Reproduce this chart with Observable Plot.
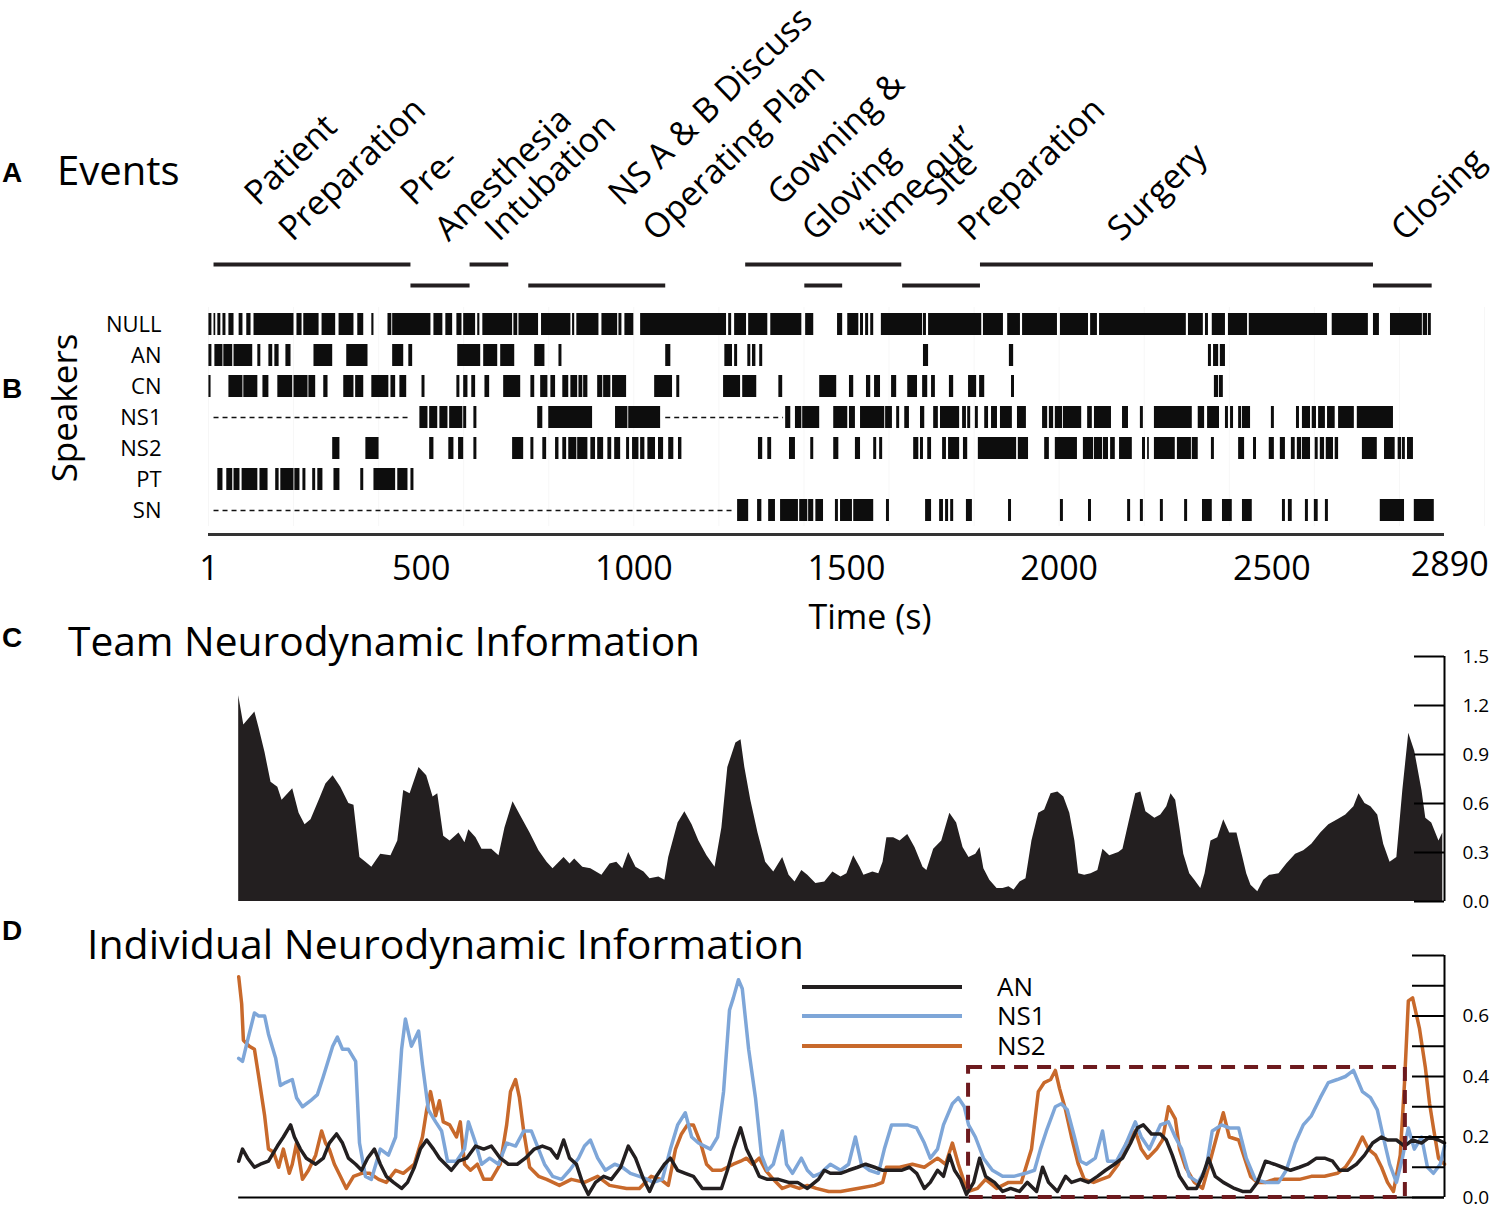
<!DOCTYPE html>
<html><head><meta charset="utf-8">
<script src="https://cdn.jsdelivr.net/npm/d3@7"></script>
<script src="https://cdn.jsdelivr.net/npm/@observablehq/plot@0.6"></script>
<style>
body{margin:0;background:#fff;}
#root{position:relative;width:1500px;height:1213px;font-family:"Open Sans",sans-serif;color:#000;overflow:hidden;background:#fff;}
.abs{position:absolute;line-height:1;white-space:nowrap;}
.panel{position:absolute;left:0;}
</style></head><body><div id="root"></div>
<script>
// ---------- DATA ----------
const tMax = 2906;                       // end of the time axis (s)
const timeTicks = [1, 500, 1000, 1500, 2000, 2500];
const timeEndTick = [2890];

// Panel A: events
const eventName = ["Patient\nPreparation", "Pre-\nAnesthesia", "Intubation", "NS A & B Discuss\nOperating Plan",
  "Gowning &\nGloving", "\u2018time out\u2019", "Site\nPreparation", "Surgery", "Closing"];
const eventStart = [13, 476, 615, 753, 1263, 1402, 1632, 1815, 2739];
const eventEnd   = [476, 615, 706, 1075, 1630, 1491, 1815, 2739, 2877];
const eventLevel = ["upper", "lower", "upper", "lower", "upper", "lower", "lower", "upper", "lower"];
const eventLabelAt = [162, 529, 647, 1018, 1392, 1528, 1759, 2111, 2777];

// Panel B: speech segments [start, end] in seconds
const speakers = ["NULL", "AN", "CN", "NS1", "NS2", "PT", "SN"];
const talkNULL = [[1,8],[13,17],[22,29],[34,41],[48,60],[72,81],[90,100],[107,201],[208,220],[224,260],[267,299],[307,342],[351,365],[384,389],[422,431],[433,523],[530,551],[558,574],[584,596],[600,628],[633,638],[645,715],[718,727],[730,776],[783,852],[856,861],[866,918],[925,962],[965,972],[979,1000],[1016,1218],[1223,1230],[1237,1265],[1270,1315],[1322,1395],[1404,1423],[1479,1491],[1503,1529],[1533,1540],[1545,1552],[1557,1564],[1582,1679],[1681,1688],[1693,1818],[1822,1869],[1879,1909],[1914,1996],[2003,2069],[2074,2090],[2095,2299],[2304,2339],[2344,2351],[2360,2391],[2398,2443],[2447,2631],[2642,2727],[2739,2753],[2779,2854],[2856,2866],[2868,2875]];
const talkAN = [[1,8],[15,34],[36,57],[60,104],[116,123],[142,151],[156,166],[182,194],[248,292],[325,375],[433,459],[471,480],[586,640],[647,680],[687,720],[767,791],[824,831],[1075,1087],[1214,1232],[1237,1244],[1268,1275],[1279,1287],[1296,1303],[1681,1693],[1883,1893],[2351,2358],[2363,2375],[2379,2391]];
const talkCN = [[1,6],[48,81],[83,116],[128,142],[163,198],[201,234],[236,252],[271,281],[318,342],[346,365],[384,424],[429,440],[450,466],[502,509],[584,591],[600,610],[619,628],[650,661],[694,734],[758,767],[781,798],[805,816],[833,847],[852,868],[871,880],[882,892],[915,927],[929,946],[950,983],[1049,1091],[1101,1108],[1211,1251],[1256,1289],[1341,1350],[1437,1477],[1507,1517],[1547,1557],[1566,1580],[1606,1618],[1644,1667],[1679,1691],[1700,1709],[1742,1752],[1787,1806],[1813,1825],[1888,1895],[2365,2375],[2377,2386]];
const talkNS1 = [[497,516],[520,539],[544,563],[567,598],[600,607],[624,631],[774,786],[800,903],[957,986],[988,1063],[1357,1369],[1380,1395],[1397,1437],[1470,1503],[1507,1521],[1533,1590],[1592,1608],[1618,1625],[1637,1648],[1674,1684],[1705,1716],[1721,1766],[1773,1782],[1785,1792],[1803,1810],[1825,1834],[1841,1855],[1862,1890],[1902,1923],[1961,1973],[1977,1987],[1991,2008],[2010,2053],[2067,2078],[2083,2123],[2149,2163],[2191,2198],[2224,2313],[2327,2342],[2349,2377],[2391,2398],[2403,2410],[2422,2429],[2431,2450],[2499,2506],[2558,2565],[2572,2591],[2595,2605],[2610,2626],[2631,2649],[2657,2694],[2701,2786]];
const talkNS2 = [[292,309],[370,401],[520,530],[565,577],[588,600],[624,631],[715,741],[758,765],[786,795],[816,824],[833,842],[847,866],[868,892],[899,910],[915,929],[939,948],[955,969],[983,990],[997,1012],[1016,1026],[1033,1051],[1058,1070],[1082,1094],[1105,1113],[1293,1303],[1315,1324],[1366,1380],[1416,1423],[1470,1482],[1521,1533],[1564,1571],[1578,1585],[1658,1670],[1674,1681],[1691,1700],[1726,1735],[1740,1766],[1775,1785],[1810,1900],[1904,1928],[1966,1977],[1991,2043],[2057,2081],[2083,2102],[2104,2116],[2121,2132],[2142,2172],[2196,2203],[2208,2212],[2224,2273],[2278,2311],[2313,2327],[2358,2365],[2422,2436],[2457,2464],[2494,2506],[2520,2532],[2546,2555],[2560,2570],[2572,2591],[2602,2609],[2614,2624],[2628,2645],[2649,2657],[2713,2748],[2765,2790],[2797,2805],[2807,2814],[2819,2833]];
const talkPT = [[22,34],[43,57],[60,74],[79,116],[121,140],[158,166],[170,201],[203,215],[222,229],[245,252],[257,269],[295,309],[358,365],[389,440],[445,469],[476,483]];
const talkSN = [[1244,1270],[1291,1301],[1317,1333],[1345,1387],[1390,1409],[1411,1423],[1428,1446],[1474,1481],[1486,1514],[1517,1564],[1594,1601],[1686,1700],[1719,1728],[1733,1740],[1745,1752],[1782,1796],[1881,1888],[2003,2010],[2069,2076],[2161,2168],[2191,2198],[2238,2245],[2295,2302],[2337,2360],[2384,2407],[2431,2454],[2525,2532],[2539,2548],[2579,2586],[2600,2609],[2626,2633],[2755,2812],[2835,2882]];
// periods when the speaker was not present (dashed)
const absentNS1 = [[13,476],[1075,1352]];
const absentSN = [[13,1240]];

// Panel C: Team neurodynamic information [time, value]
const teamNI = [[71,1.26],[83,1.08],[109,1.16],[119,1.06],[133,.91],[147,.73],[163,.70],[173,.62],[198,.69],[213,.54],[227,.47],[241,.50],[262,.63],[276,.72],[293,.77],[311,.70],[330,.60],[342,.59],[356,.27],[370,.24],[384,.21],[405,.29],[429,.28],[445,.37],[459,.68],[474,.66],[495,.82],[513,.77],[528,.64],[539,.66],[553,.40],[568,.37],[589,.42],[603,.36],[612,.44],[629,.39],[643,.32],[666,.32],[683,.28],[697,.45],[716,.61],[737,.51],[756,.42],[777,.31],[796,.24],[810,.20],[836,.27],[850,.23],[861,.26],[880,.21],[899,.20],[925,.16],[944,.23],[960,.24],[974,.20],[988,.30],[1005,.21],[1024,.18],[1038,.14],[1059,.15],[1073,.13],[1082,.27],[1104,.48],[1120,.55],[1137,.47],[1153,.37],[1172,.28],[1191,.21],[1207,.45],[1221,.82],[1240,.97],[1252,.99],[1261,.82],[1275,.62],[1292,.42],[1310,.24],[1329,.18],[1350,.27],[1365,.16],[1379,.12],[1395,.19],[1409,.16],[1428,.11],[1449,.12],[1468,.18],[1487,.15],[1501,.17],[1517,.28],[1532,.21],[1541,.16],[1562,.18],[1576,.17],[1586,.24],[1595,.39],[1611,.39],[1626,.37],[1644,.41],[1661,.33],[1680,.21],[1689,.19],[1705,.32],[1724,.37],[1743,.54],[1759,.48],[1774,.33],[1788,.27],[1804,.29],[1814,.33],[1823,.20],[1837,.13],[1854,.08],[1868,.08],[1882,.09],[1894,.07],[1908,.12],[1922,.14],[1936,.37],[1952,.54],[1966,.56],[1981,.66],[1997,.67],[2011,.64],[2025,.54],[2037,.37],[2046,.17],[2060,.16],[2075,.17],[2091,.19],[2103,.32],[2119,.28],[2140,.30],[2150,.32],[2164,.48],[2180,.66],[2192,.67],[2204,.55],[2225,.51],[2239,.53],[2253,.58],[2263,.66],[2274,.62],[2284,.45],[2293,.29],[2307,.17],[2319,.13],[2333,.08],[2343,.17],[2357,.37],[2373,.39],[2387,.50],[2401,.42],[2418,.42],[2432,.27],[2441,.17],[2451,.10],[2467,.06],[2481,.13],[2495,.16],[2517,.17],[2535,.23],[2556,.29],[2575,.31],[2594,.35],[2615,.42],[2634,.47],[2655,.50],[2674,.53],[2693,.58],[2705,.66],[2719,.60],[2733,.58],[2749,.53],[2763,.35],[2778,.24],[2794,.27],[2808,.68],[2822,1.03],[2836,.92],[2853,.68],[2862,.51],[2876,.48],[2893,.37],[2902,.42]];
const teamTicks = [0, 0.3, 0.6, 0.9, 1.2, 1.5];

// Panel D: individual neurodynamic information [time, value]
const indivAN = [[71,.12],[80,.16],[92,.13],[108,.10],[122,.11],[141,.12],[162,.17],[176,.20],[193,.24],[202,.20],[216,.16],[230,.13],[252,.11],[270,.13],[284,.18],[301,.21],[315,.18],[329,.13],[346,.11],[360,.09],[374,.13],[390,.16],[404,.11],[418,.07],[435,.05],[454,.03],[468,.05],[484,.10],[498,.16],[513,.19],[529,.16],[543,.13],[557,.11],[571,.09],[588,.12],[607,.13],[628,.17],[647,.16],[665,.17],[686,.13],[705,.11],[726,.11],[745,.13],[766,.16],[785,.17],[804,.16],[820,.13],[835,.19],[849,.13],[865,.11],[879,.05],[893,.01],[910,.05],[929,.07],[947,.06],[969,.10],[987,.17],[1004,.13],[1023,.06],[1037,.02],[1053,.07],[1072,.11],[1086,.13],[1103,.09],[1121,.08],[1140,.07],[1161,.03],[1185,.03],[1206,.03],[1220,.09],[1234,.16],[1251,.23],[1265,.16],[1279,.12],[1295,.07],[1314,.06],[1340,.06],[1364,.05],[1385,.05],[1408,.03],[1434,.06],[1448,.09],[1462,.08],[1486,.08],[1505,.09],[1526,.10],[1545,.11],[1566,.10],[1585,.09],[1606,.09],[1629,.09],[1648,.10],[1665,.08],[1683,.03],[1697,.05],[1714,.09],[1728,.07],[1742,.14],[1754,.09],[1768,.06],[1782,.01],[1799,.05],[1813,.13],[1827,.07],[1848,.05],[1867,.02],[1886,.03],[1907,.02],[1925,.05],[1947,.02],[1961,.10],[1975,.05],[1996,.02],[2015,.07],[2029,.05],[2050,.06],[2069,.05],[2090,.07],[2109,.09],[2130,.11],[2149,.13],[2168,.18],[2184,.23],[2198,.24],[2217,.21],[2238,.21],[2252,.19],[2266,.14],[2283,.07],[2302,.03],[2323,.03],[2337,.07],[2351,.13],[2367,.07],[2386,.05],[2412,.03],[2431,.02],[2450,.02],[2466,.05],[2485,.12],[2506,.11],[2525,.10],[2544,.09],[2565,.10],[2584,.11],[2605,.13],[2624,.13],[2643,.12],[2659,.09],[2678,.09],[2699,.11],[2718,.14],[2737,.18],[2758,.20],[2772,.19],[2793,.19],[2812,.17],[2831,.19],[2852,.18],[2871,.20],[2892,.19],[2906,.18]];
const indivNS1 = [[71,.46],[80,.45],[92,.52],[108,.61],[118,.60],[132,.60],[141,.54],[158,.46],[169,.37],[181,.38],[197,.39],[207,.33],[221,.30],[240,.32],[256,.34],[270,.40],[292,.50],[303,.53],[315,.49],[329,.49],[346,.45],[355,.18],[369,.07],[383,.06],[404,.16],[423,.14],[440,.20],[454,.49],[463,.59],[477,.50],[494,.55],[503,.44],[517,.29],[534,.25],[548,.22],[562,.12],[583,.12],[602,.16],[611,.25],[628,.18],[642,.11],[661,.13],[682,.11],[701,.18],[722,.17],[741,.22],[759,.22],[776,.16],[790,.11],[809,.07],[830,.06],[849,.09],[870,.13],[884,.17],[898,.19],[915,.13],[933,.09],[955,.11],[973,.10],[992,.08],[1013,.07],[1032,.06],[1046,.05],[1067,.06],[1086,.16],[1103,.24],[1121,.28],[1136,.20],[1152,.18],[1166,.17],[1180,.16],[1197,.20],[1211,.35],[1225,.62],[1234,.66],[1246,.72],[1255,.69],[1270,.49],[1286,.33],[1300,.14],[1314,.09],[1328,.11],[1349,.22],[1359,.11],[1373,.08],[1394,.13],[1408,.09],[1422,.07],[1439,.08],[1462,.11],[1486,.09],[1505,.11],[1521,.20],[1535,.11],[1554,.09],[1575,.08],[1589,.16],[1606,.24],[1625,.24],[1643,.24],[1665,.23],[1683,.18],[1697,.13],[1714,.16],[1728,.24],[1749,.31],[1763,.33],[1777,.30],[1787,.24],[1803,.20],[1822,.13],[1843,.09],[1867,.07],[1893,.07],[1921,.08],[1942,.09],[1956,.16],[1970,.22],[1991,.30],[2005,.31],[2019,.29],[2036,.20],[2050,.12],[2064,.11],[2085,.13],[2102,.22],[2114,.12],[2135,.12],[2158,.18],[2179,.25],[2193,.20],[2212,.16],[2238,.24],[2257,.25],[2273,.20],[2288,.16],[2306,.07],[2327,.05],[2346,.10],[2360,.22],[2382,.24],[2400,.23],[2422,.23],[2440,.13],[2461,.06],[2485,.05],[2516,.05],[2534,.09],[2555,.18],[2574,.24],[2593,.27],[2614,.33],[2633,.38],[2654,.39],[2673,.40],[2692,.42],[2713,.35],[2732,.33],[2748,.29],[2762,.20],[2777,.11],[2793,.05],[2807,.13],[2821,.23],[2835,.16],[2852,.20],[2866,.10],[2880,.08],[2896,.11],[2906,.17]];
const indivNS2 = [[71,.73],[78,.64],[82,.52],[96,.50],[108,.49],[118,.40],[132,.27],[141,.16],[153,.15],[165,.10],[176,.16],[190,.08],[197,.11],[207,.18],[221,.06],[235,.09],[252,.14],[266,.22],[275,.18],[284,.16],[296,.11],[310,.07],[324,.03],[341,.07],[360,.08],[379,.08],[400,.06],[418,.05],[440,.09],[458,.08],[484,.11],[503,.20],[513,.29],[522,.35],[534,.27],[543,.32],[552,.25],[567,.24],[583,.20],[592,.25],[602,.11],[616,.09],[632,.11],[647,.06],[665,.06],[686,.11],[701,.24],[710,.35],[722,.39],[731,.33],[741,.22],[755,.10],[776,.07],[795,.06],[825,.04],[853,.06],[884,.05],[915,.07],[943,.04],[983,.03],[1013,.03],[1041,.07],[1063,.06],[1081,.04],[1098,.16],[1112,.21],[1126,.24],[1140,.24],[1157,.18],[1171,.11],[1185,.09],[1206,.09],[1220,.10],[1234,.11],[1251,.12],[1265,.13],[1279,.11],[1295,.13],[1310,.09],[1328,.06],[1349,.03],[1368,.04],[1389,.03],[1408,.04],[1429,.03],[1458,.02],[1486,.02],[1526,.03],[1566,.04],[1585,.05],[1594,.10],[1625,.10],[1655,.11],[1683,.10],[1714,.13],[1733,.11],[1749,.18],[1763,.11],[1777,.05],[1787,.02],[1808,.03],[1827,.06],[1853,.03],[1881,.05],[1911,.05],[1935,.16],[1951,.35],[1965,.38],[1980,.39],[1991,.42],[2001,.36],[2015,.29],[2029,.20],[2045,.11],[2059,.06],[2081,.05],[2099,.06],[2118,.07],[2139,.11],[2158,.18],[2179,.22],[2193,.16],[2208,.13],[2229,.16],[2243,.19],[2257,.30],[2273,.26],[2283,.16],[2297,.10],[2318,.05],[2337,.03],[2351,.10],[2372,.21],[2386,.28],[2400,.20],[2422,.19],[2436,.13],[2450,.07],[2466,.05],[2485,.05],[2506,.06],[2534,.06],[2565,.06],[2593,.07],[2624,.07],[2654,.08],[2673,.10],[2692,.14],[2713,.20],[2727,.16],[2744,.14],[2758,.10],[2772,.05],[2786,.02],[2802,.14],[2812,.38],[2821,.65],[2831,.66],[2847,.56],[2861,.43],[2871,.31],[2880,.23],[2892,.13],[2906,.11]];
const indivTicks = [0, 0.1, 0.2, 0.3, 0.4, 0.5, 0.6, 0.7, 0.8];
const indivLabels = [0, 0.2, 0.4, 0.6];
const highlight = [{start: 1787, end: 2814, low: 0, high: 0.43}];

const seriesNames = ["AN", "NS1", "NS2"];
const seriesColors = ["#231f20", "#7ea6d8", "#c8692b"];

// ---------- LAYOUT HELPERS ----------
const root = document.getElementById("root");
const FONT = "Open Sans";
function addPlot(svg, top) {
  svg.classList.add("panel");
  svg.style.top = top + "px";
  root.appendChild(svg);
}
function addText(str, x, baseline, size, o = {}) {
  const d = document.createElement("div");
  d.className = "abs";
  d.textContent = str;
  const fam = o.family || FONT;
  const k = fam === FONT ? 0.888 : 0.8465;
  d.style.fontFamily = `"${fam}"`;
  d.style.left = x + "px";
  d.style.top = (baseline - k * size) + "px";
  d.style.fontSize = size + "px";
  if (o.bold) d.style.fontWeight = "bold";
  if (o.center) d.style.transform = "translateX(-50%)";
  root.appendChild(d);
  return d;
}
const common = {
  width: 1500, marginLeft: 208, marginRight: 56,
  style: {fontFamily: FONT, background: "transparent", color: "#000", overflow: "visible"}
};

// ---------- PANEL A ----------
const events = eventName.map((name, i) => ({name, start: eventStart[i], end: eventEnd[i], level: eventLevel[i], labelAt: eventLabelAt[i]}));
addPlot(Plot.plot({
  ...common, height: 290, marginTop: 264, marginBottom: 5,
  x: {domain: [0, tMax], axis: null},
  y: {type: "point", domain: ["upper", "lower"], padding: 0, axis: null},
  marks: [
    Plot.ruleY(events, {x1: "start", x2: "end", y: "level", stroke: "#231f20", strokeWidth: 4}),
    Plot.text(events, {x: "labelAt", frameAnchor: "top", dx: 15, dy: -22, text: "name", rotate: -44,
      textAnchor: "start", lineAnchor: "bottom", lineHeight: 1.45, fontSize: 34, fill: "#000"})
  ]
}), 0);

// ---------- PANEL B ----------
const talkBySpeaker = {NULL: talkNULL, AN: talkAN, CN: talkCN, NS1: talkNS1, NS2: talkNS2, PT: talkPT, SN: talkSN};
const talk = speakers.flatMap(s => talkBySpeaker[s].map(([start, end]) => ({speaker: s, start, end})));
const absent = [...absentNS1.map(([start, end]) => ({speaker: "NS1", start, end})),
                ...absentSN.map(([start, end]) => ({speaker: "SN", start, end}))];
addPlot(Plot.plot({
  ...common, height: 350, marginTop: 17, marginBottom: 114,
  x: {domain: [0, tMax]},
  y: {type: "band", domain: speakers, paddingInner: 0.3, paddingOuter: 0.15},
  marks: [
    Plot.gridX(d3.range(0, 3001, 200), {stroke: "#000", strokeOpacity: 0.035}),
    Plot.barX(talk, {x1: "start", x2: "end", y: "speaker", fill: "#0d0d0d"}),
    Plot.ruleY(absent, {x1: "start", x2: "end", y: "speaker", stroke: "#111", strokeWidth: 1.6, strokeDasharray: "5,4"}),
    Plot.ruleY(["SN"], {x1: 0, x2: tMax, dy: 24, stroke: "#333", strokeWidth: 3}),
    Plot.axisX({ticks: timeTicks, tickSize: 0, tickPadding: 29, fontSize: 34, tickFormat: d => String(d), label: null}),
    Plot.axisX({ticks: timeEndTick, tickSize: 0, tickPadding: 25, dx: 12, fontSize: 34, tickFormat: d => String(d), label: null}),
    Plot.axisY({tickSize: 0, tickPadding: 47, fontSize: 22, label: null})
  ]
}), 290);

// ---------- PANEL C ----------
addPlot(Plot.plot({
  ...common, height: 275, marginTop: 16, marginBottom: 14,
  x: {domain: [0, tMax], axis: null},
  y: {domain: [0, 1.5]},
  marks: [
    Plot.areaY(teamNI, {x: d => d[0], y: d => d[1], fill: "#231f20"}),
    Plot.ruleX([tMax], {y1: 0, y2: 1.5, stroke: "#000", strokeWidth: 2}),
    Plot.ruleY(teamTicks, {insetLeft: 1236 - 30, stroke: "#000", strokeWidth: 2}),
    Plot.axisY({anchor: "right", ticks: teamTicks, tickSize: 0, tickPadding: 18, fontSize: 19, tickFormat: ".1f", label: null})
  ]
}), 640);

// ---------- PANEL D ----------
addPlot(Plot.plot({
  ...common, height: 298, marginTop: 40, marginBottom: 16,
  x: {domain: [0, tMax], axis: null},
  y: {domain: [0, 0.8]},
  marks: [
    Plot.ruleY([0], {x1: d3.min(indivAN, d => d[0]), x2: tMax, stroke: "#000", strokeWidth: 2}),
    Plot.lineY(indivNS2, {x: d => d[0], y: d => d[1], stroke: seriesColors[2], strokeWidth: 3.5}),
    Plot.lineY(indivNS1, {x: d => d[0], y: d => d[1], stroke: seriesColors[1], strokeWidth: 3.5}),
    Plot.lineY(indivAN, {x: d => d[0], y: d => d[1], stroke: seriesColors[0], strokeWidth: 3.5}),
    Plot.rect(highlight, {x1: "start", x2: "end", y1: "low", y2: "high", fill: "none", stroke: "#6d1a1e", strokeWidth: 4, strokeDasharray: "14,9"}),
    Plot.ruleX([tMax], {y1: 0, y2: 0.8, stroke: "#000", strokeWidth: 2}),
    Plot.ruleY(indivTicks, {insetLeft: 1236 - 32, stroke: "#000", strokeWidth: 2}),
    Plot.axisY({anchor: "right", ticks: indivLabels, tickSize: 0, tickPadding: 18, fontSize: 19, tickFormat: ".1f", label: null})
  ]
}), 915);

// ---------- TEXT ----------
addText("A", 2, 183, 28, {family: "Liberation Sans", bold: true});
addText("Events", 57, 186, 40);
addText("B", 2, 399, 28, {family: "Liberation Sans", bold: true});
const sp = addText("Speakers", 63, 420, 35);
sp.style.left = "63px"; sp.style.top = "408px";
sp.style.transform = "translate(-50%,-50%) rotate(-90deg)";
addText("Time (s)", 870, 629, 34, {center: true});
addText("C", 2, 648, 28, {family: "Liberation Sans", bold: true});
addText("Team Neurodynamic Information", 68, 656, 40.7);
addText("D", 2, 941, 28, {family: "Liberation Sans", bold: true});
addText("Individual Neurodynamic Information", 87, 959, 41);

// legend
const legendY = [987, 1016, 1046];
seriesNames.forEach((name, i) => {
  const ln = document.createElement("div");
  ln.style.cssText = `position:absolute;left:802px;width:160px;height:3.5px;top:${legendY[i] - 1.75}px;background:${seriesColors[i]};`;
  root.appendChild(ln);
  const t = addText(name, 997, legendY[i] + 9, 26);
  t.style.height = "26px";
});
</script></body></html>
